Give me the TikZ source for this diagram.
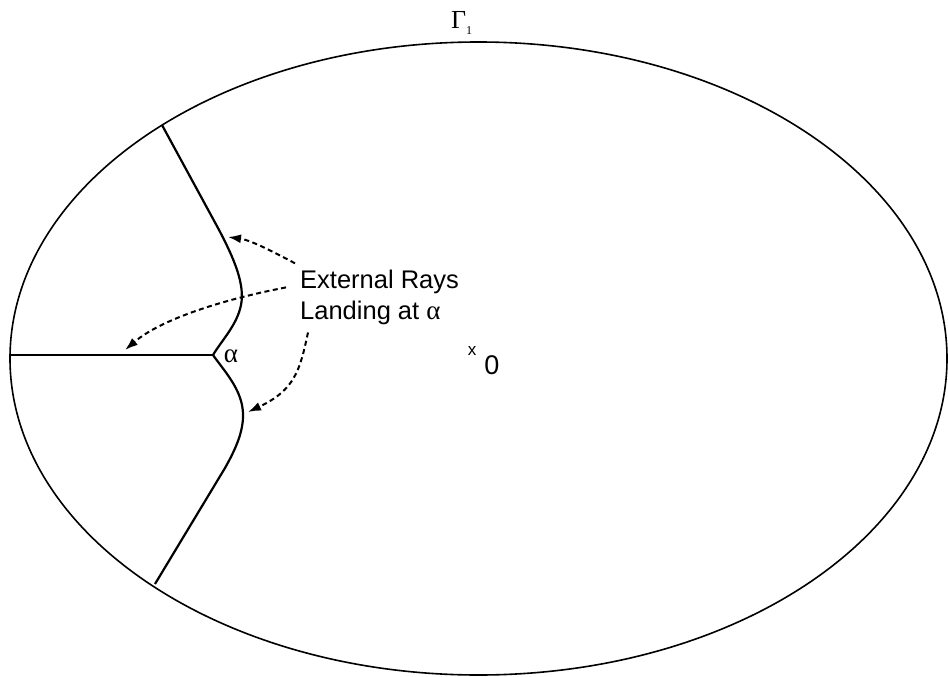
\documentclass[tikz,border=0pt]{standalone}
\usepackage{fontspec}
\setmainfont{Liberation Sans}
\newfontfamily\serifgr{Liberation Serif}
\usetikzlibrary{arrows.meta}
\tikzset{
  boundary/.style={line width=1.6pt},
  ray/.style={line width=2.2pt},
  pointer/.style={line width=2pt, dash pattern=on 5pt off 3.5pt, -{Latex[length=13pt,width=9pt]}},
  lbl/.style={inner sep=0pt, font=\fontsize{25.5}{30}\selectfont}
}
\begin{document}
\begin{tikzpicture}[x=1pt,y=-1pt]
\useasboundingbox (0,0) rectangle (948,677);
% boundary curve
\draw[boundary] (478.5,358.5) ellipse [x radius=468.5pt, y radius=316.5pt];
\node[inner sep=0pt, anchor=base west] (gam) at (451,29)
  {\serifgr\fontsize{26}{26}\selectfont Γ\raisebox{-6pt}{\fontsize{12}{12}\selectfont 1}};
% landing point and ray ends
\coordinate (alpha) at (213,355);
\coordinate (L) at (10,355);
\coordinate (U) at (162,125);
\coordinate (D) at (155,584);
% external rays
\draw[ray] (L) -- (alpha);
\draw[ray] (U) -- (218,228) .. controls (235,260) and (245,285) .. (241,305)
  .. controls (237,325) and (222,340) .. (alpha);
\draw[ray] (alpha) .. controls (222,368) and (238,385) .. (242,405)
  .. controls (246,425) and (238,445) .. (225,468) -- (D);
\node[inner sep=0pt, font=\fontsize{27}{30}\selectfont] (alab) at (231,356) {\serifgr α};
% labels
\node[lbl, anchor=base west] (ext) at (300,288) {External Rays};
\node[lbl, anchor=base west] (land) at (300,319) {Landing at {\serifgr\fontsize{27}{30}\selectfont α}};
\node[inner sep=0pt, font=\fontsize{17}{17}\selectfont] (xm) at (472,351) {x};
\node[inner sep=0pt, font=\fontsize{27}{27}\selectfont] (zero) at (492,365) {0};
% pointers
\coordinate (tipU) at (228,237);
\coordinate (tipM) at (125,350);
\coordinate (tipD) at (248,412);
\draw[pointer] ([shift={(-5,-6)}]ext.north west) .. controls (270,250) and (250,240) .. (tipU);
\draw[pointer] ([shift={(-14,6)}]ext.west) .. controls (220,300) and (160,320) .. (tipM);
\draw[pointer] ([shift={(8,8)}]land.south west) .. controls (300,370) and (295,390) .. (tipD);
\end{tikzpicture}
\end{document}
